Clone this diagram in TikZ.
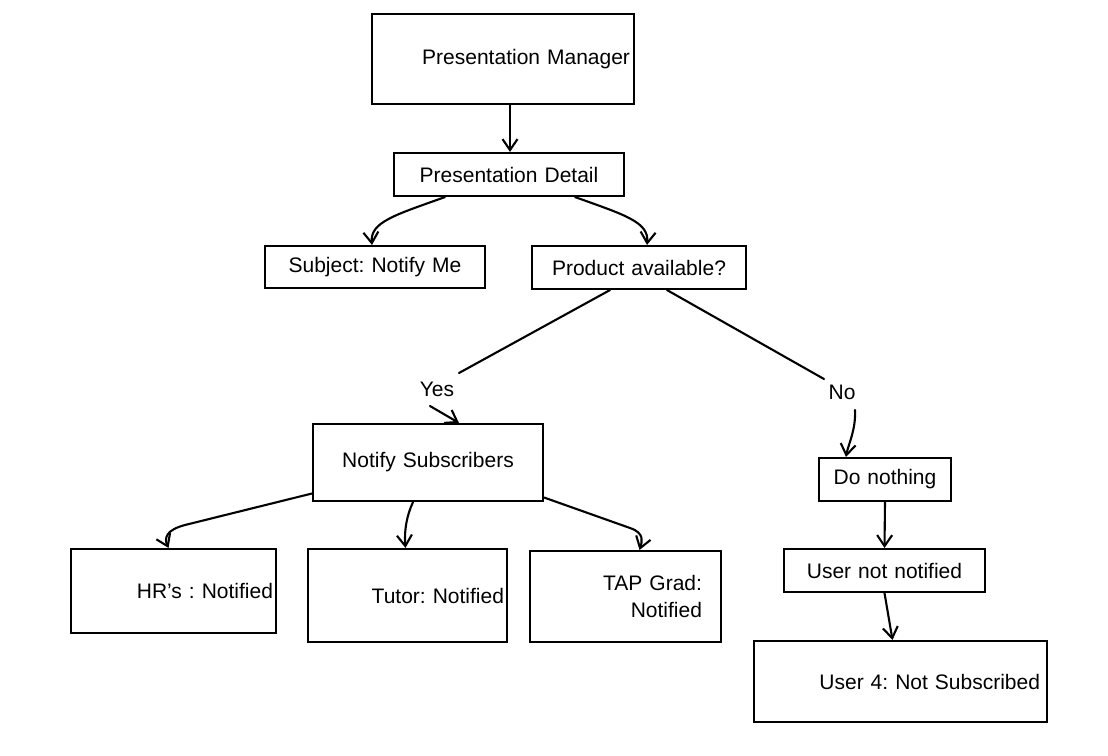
\documentclass[tikz,border=0pt]{standalone}
\usepackage{fontspec}
\setmainfont{Liberation Sans}
\usetikzlibrary{arrows.meta,calc}
\frenchspacing
\tikzset{
 box/.style={draw=black, line width=2.1pt, inner ysep=0pt, font=\fontsize{21}{27}\selectfont\frenchspacing},
 cbox/.style={box, inner xsep=4pt, align=center},
 rbox/.style={box, align=right},
 conn/.style={draw=black, line width=2.1pt, line cap=round, line join=round},
 arr/.style={conn, -{Straight Barb[length=11pt,width=15pt,line width=2.1pt]}},
 lbl/.style={font=\fontsize{21}{27}\selectfont, inner sep=1pt}
}
\begin{document}
\begin{tikzpicture}[x=1pt,y=-1pt]
\useasboundingbox (0,0) rectangle (1108,755);

\node[rbox, minimum width=262pt, minimum height=90pt, text width=254pt, inner xsep=4pt] (pm) at (503,59) {Presentation Manager};
\node[cbox, minimum width=230pt, minimum height=43pt, text width=222pt] (pd) at (509,174.5) {Presentation Detail};
\node[cbox, minimum width=220pt, minimum height=42pt, text width=212pt] (subj) at (375,267) {Subject: Notify Me};
\node[cbox, minimum width=214pt, minimum height=43pt, text width=206pt] (prod) at (639,267.5) {Product available?};
\node[cbox, minimum width=230pt, minimum height=77pt, text width=222pt] (ns) at (428,462.5) {Notify Subscribers};
\node[cbox, minimum width=132pt, minimum height=43pt, text width=124pt] (dn) at (885,479.5) {Do nothing};
\node[rbox, minimum width=205pt, minimum height=84pt, text width=199pt, inner xsep=3pt] (hr) at (173.5,591) {HR's : Notified};
\node[rbox, minimum width=199pt, minimum height=93pt, text width=193pt, inner xsep=3pt] (tutor) at (407.5,595.5) {Tutor: Notified};
\node[rbox, minimum width=191pt, minimum height=91pt, text width=153pt, inner xsep=19pt] (tap) at (625.5,596.5) {TAP Grad:\\Notified};
\node[cbox, minimum width=201pt, minimum height=43pt, text width=193pt] (unn) at (884.5,570.5) {User not notified};
\node[rbox, minimum width=293pt, minimum height=81pt, text width=279pt, inner xsep=7pt] (u4) at (900.5,681.5) {User 4: Not Subscribed};

\node[lbl] (yes) at (437,389) {Yes};
\node[lbl] (no) at (842,392) {No};

\draw[arr] ($(pm.south)+(7,0)$) -- ($(pd.north)+(1,0)$);
\draw[arr] ($(pd.south)+(-64,0)$) .. controls (395,215) and (370,222) .. ($(subj.north)+(-3,0)$);
\draw[arr] ($(pd.south)+(66,0)$) .. controls (625,215) and (649,222) .. ($(prod.north)+(8,0)$);
\draw[conn] ($(prod.south)+(-29,0)$) -- ($(yes)+(22,-16)$);
\draw[arr] ($(yes)+(-7,17)$) -- ($(ns.north)+(31,0)$);
\draw[conn] ($(prod.south)+(28,0)$) -- ($(no)+(-18,-13)$);
\draw[arr] ($(no)+(13,18)$) .. controls (856,430) and (848,445) .. ($(dn.north)+(-39,0)$);
\draw[arr] ($(ns.west)+(0,31)$) -- (185,525) .. controls (166,530) and (164,538) .. ($(hr.north)+(-5,0)$);
\draw[arr] ($(ns.south)+(-15,0)$) .. controls (407,515) and (404,530) .. ($(tutor.north)+(-2,0)$);
\draw[arr] ($(ns.east)+(0,35)$) -- (630,528) .. controls (645,533) and (642,542) .. ($(tap.north)+(14,0)$);
\draw[arr] (dn.south) -- (unn.north);
\draw[arr] (unn.south) -- ($(u4.north)+(-8,0)$);
\end{tikzpicture}
\end{document}
